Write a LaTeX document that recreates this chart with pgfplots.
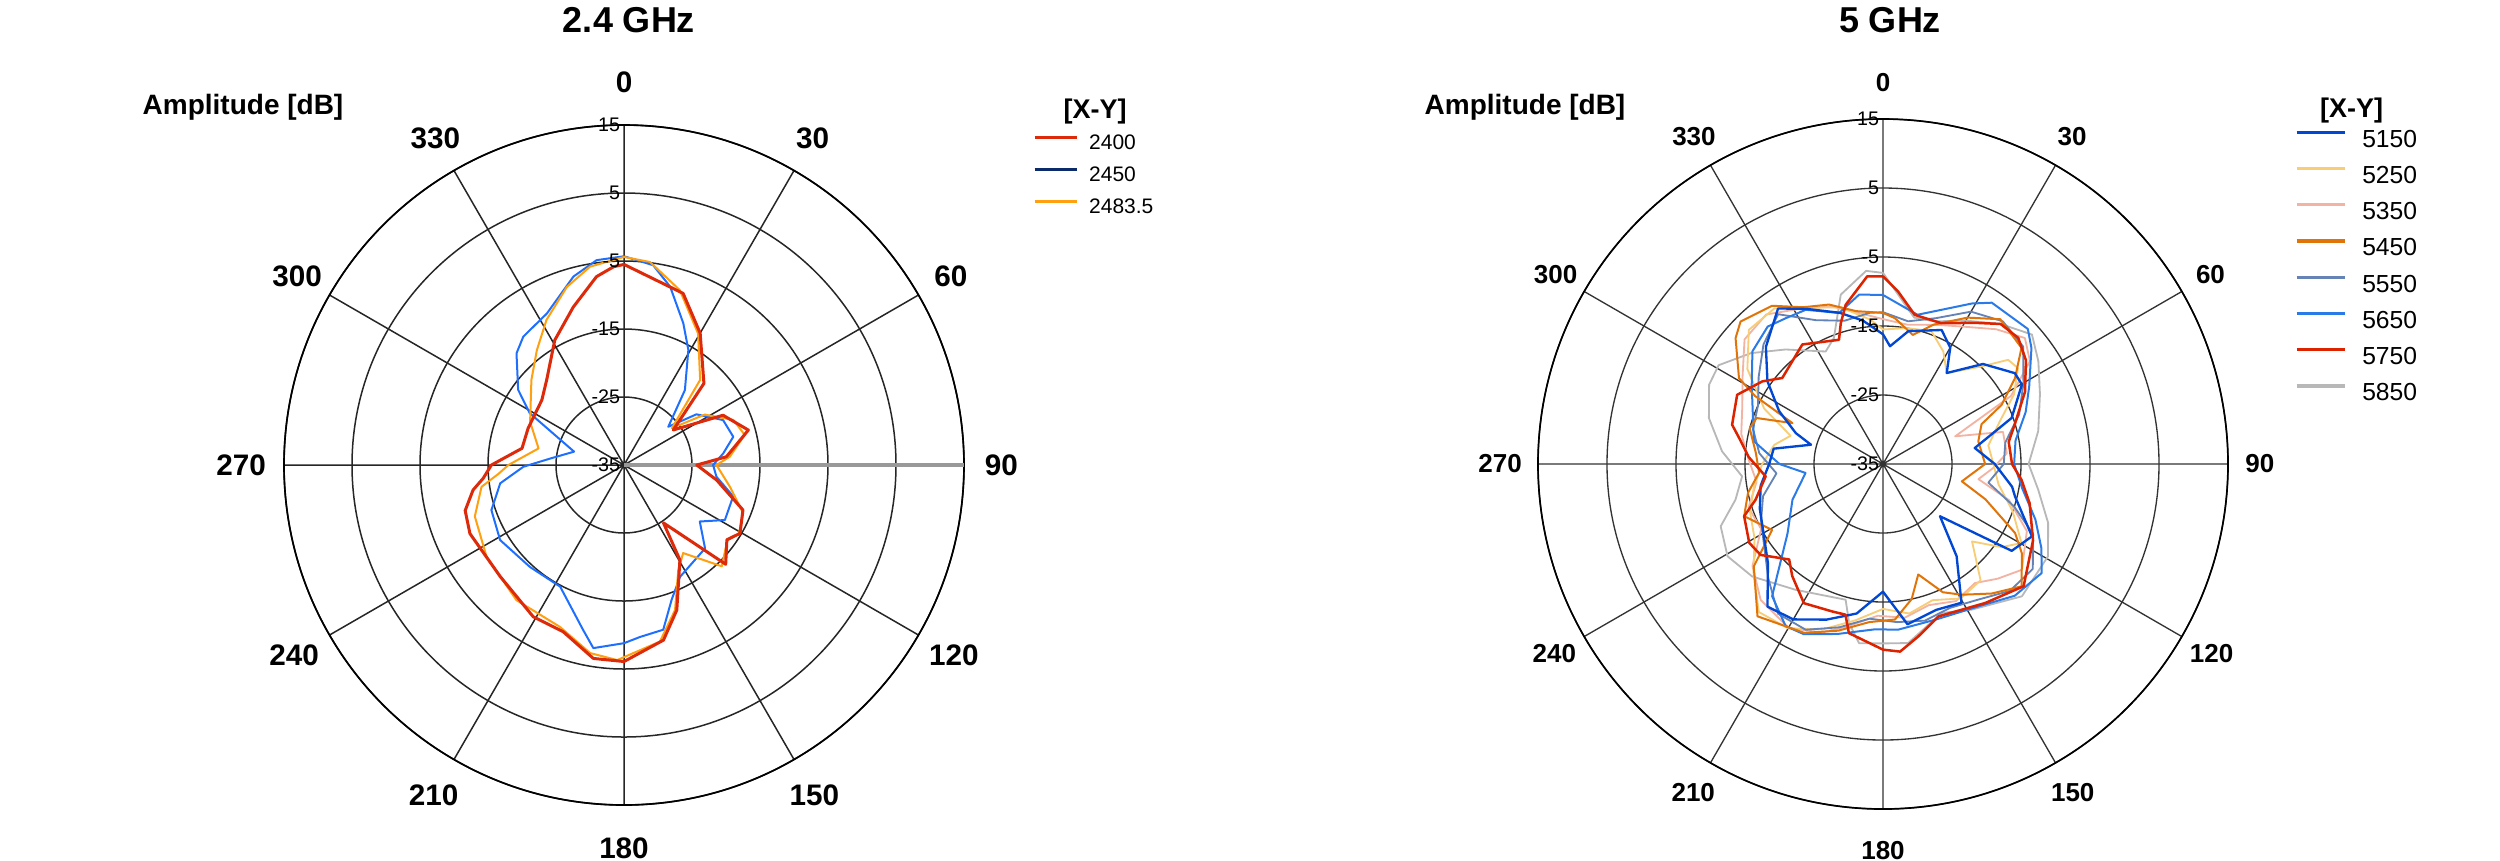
\documentclass[border=0pt]{standalone}
\usepackage{fontspec}
\setmainfont{Liberation Sans}
\usepackage{pgfplots}
\pgfplotsset{compat=1.18}
\usepgfplotslibrary{polar}

\definecolor{cRedA}{HTML}{DD2A0A}
\definecolor{cBlueA}{HTML}{1F6FFF}
\definecolor{cNavyA}{HTML}{0B2A6A}
\definecolor{cOrangeA}{HTML}{FFA010}
\definecolor{c5150}{HTML}{0047D4}
\definecolor{c5250}{HTML}{F7CD75}
\definecolor{c5350}{HTML}{F3B3A3}
\definecolor{c5450}{HTML}{E07409}
\definecolor{c5550}{HTML}{6583B5}
\definecolor{c5650}{HTML}{2A7BE8}
\definecolor{c5750}{HTML}{DD2200}
\definecolor{c5850}{HTML}{B8B8B8}

\pgfplotsset{
  compass/.style={x filter/.expression={90-x}, y filter/.expression={y+35}, line join=round},
  mypolar/.style={scale only axis, xmin=0, xmax=360, ymin=0, ymax=50,
    xtick={0,30,...,330}, ytick={10,20,30,40,50}, xticklabels={}, yticklabels={},
    major tick length=0pt, grid=major, clip=false,
    axis line style={black, line width=0.5pt},
    y axis line style={draw=none},
    major grid style={black!85, line width=0.45pt},
    legend cell align=left,
  },
}
\tikzset{
  albA/.style={font=\fontsize{8.9}{10}\selectfont\bfseries, inner sep=0pt},
  albB/.style={font=\fontsize{7.8}{9}\selectfont\bfseries, inner sep=0pt},
  rlab/.style={font=\fontsize{5.9}{7}\selectfont, anchor=east, inner sep=1pt},
}

\begin{document}
\begin{tikzpicture}
\path[use as bounding box] (0pt,0pt) rectangle (750pt,-258pt);

% ---------------- 2.4 GHz ----------------
\begin{polaraxis}[mypolar, width=204pt, height=204pt,
  at={(187.2pt,-139.5pt)}, anchor=center,
  legend style={draw=none, fill=none, at={(1.1015,0.986)}, anchor=north west,
    font=\fontsize{6.3}{7}\selectfont, inner sep=0pt, outer sep=0pt, row sep=3.7pt,
    nodes={inner sep=0pt}},
  legend image code/.code={\draw[#1, line width=0.9pt] (0pt,2.2pt) -- (12.6pt,2.2pt); \path (16.2pt,2.2pt);},
]
\addlegendimage{cRedA}\addlegendentry{2400}
\addlegendimage{cNavyA}\addlegendentry{2450}
\addlegendimage{cOrangeA}\addlegendentry{2483.5}

\addplot[forget plot, black!40, line width=1pt] coordinates {(0,0) (0,50)};

\addplot[forget plot, compass, cBlueA, line width=0.6pt] coordinates {
(0,-4.3)(8.3,-5.3)(14.5,-7.9)(22.7,-12.4)(29.2,-15.6)(39.1,-20.8)(49.2,-26.4)(55,-22)(65.6,-19)(75.5,-18.4)(83.3,-20.3)(90,-21.9)(97.2,-21.3)(106,-18.3)(118.6,-18.1)(126.7,-21.1)(135.8,-17.9)(153.4,-16.6)(160.5,-14)(166.6,-10.1)(174.7,-9.6)(180,-8.8)(189.5,-7.7)(193.9,-10)(207.7,-14.8)(222.7,-14.6)(238.8,-13.7)(251.2,-14.4)(261.6,-16.6)(269,-20.2)(275,-24.1)(285,-27.4)(298.8,-19.2)(305.4,-15.9)(316.1,-12.2)(321.9,-11)(333,-10)(345,-6.3)(352.4,-4.6)(360,-4.3)
};
\addplot[forget plot, compass, cOrangeA, line width=0.6pt] coordinates {
(0,-4.4)(7.3,-4.9)(17.7,-8)(29.4,-12.8)(41.8,-18.2)(52.4,-26.1)(58,-21)(67.6,-17.6)(76,-16.7)(85.5,-19.4)(90,-21.4)(101.6,-19.1)(112,-16.1)(121,-15.3)(126,-16.2)(136,-14.3)(146.1,-19.4)(152.7,-17.6)(160.6,-12.4)(168.5,-8.5)(182,-6.3)(190.2,-6.9)(201.6,-9.4)(218.5,-9.6)(236.3,-10.7)(251,-11.8)(261.3,-13.8)(266,-16.5)(270,-18)(281,-22.2)(294.7,-19.8)(312.6,-16.5)(322.8,-13.8)(331.9,-10.8)(342.2,-7.5)(350.3,-5.4)(360,-4.4)
};
\addplot[forget plot, compass, cRedA, line width=0.9pt] coordinates {
(0,-5.5)(19,-8.3)(30,-12.6)(44.4,-18.2)(54.6,-26.1)(63.3,-18.7)(74.3,-16)(85.4,-19.9)(90,-24.3)(99.2,-21.2)(110.7,-16.3)(120.5,-15.2)(126,-16.3)(134.3,-14.1)(145.7,-24.7)(149.5,-18.8)(160,-12.3)(167.3,-8.6)(180,-6.1)(189,-6.2)(200,-8.9)(210.9,-9)(228,-10.5)(246,-10.2)(254,-10.7)(260.6,-12.5)(264.6,-14.2)(270,-15.5)(279.3,-19.8)(291,-19.9)(308.3,-19.6)(317.7,-18.1)(331,-14)(342.2,-10.6)(351.7,-7)(357,-5.8)(360,-5.5)
};

\node[albA] at (axis cs:90,56.3) {0};
\node[albA] at (axis cs:60,55.5) {30};
\node[albA] at (axis cs:30,55.5) {60};
\node[albA] at (axis cs:0,55.5) {90};
\node[albA] at (axis cs:330,56) {120};
\node[albA] at (axis cs:300,56) {150};
\node[albA] at (axis cs:270,56.3) {180};
\node[albA] at (axis cs:240,56) {210};
\node[albA] at (axis cs:210,56) {240};
\node[albA] at (axis cs:180,56.3) {270};
\node[albA] at (axis cs:150,55.5) {300};
\node[albA] at (axis cs:120,55.5) {330};

\node[rlab] at (axis cs:90,0) {-35};
\node[rlab] at (axis cs:90,10) {-25};
\node[rlab] at (axis cs:90,20) {-15};
\node[rlab] at (axis cs:90,30) {-5};
\node[rlab] at (axis cs:90,40) {5};
\node[rlab] at (axis cs:90,50) {15};
\end{polaraxis}

% ---------------- 5 GHz ----------------
\begin{polaraxis}[mypolar, width=207pt, height=207pt,
  at={(564.9pt,-139.2pt)}, anchor=center,
  major grid style={black!80, line width=0.4pt},
  legend style={draw=none, fill=none, at={(1.097,0.984)}, anchor=north west,
    font=\fontsize{7.4}{8}\selectfont, inner sep=0pt, outer sep=0pt, row sep=4.2pt,
    nodes={inner sep=0pt}},
  legend image code/.code={\draw[#1, line width=1pt] (0pt,2.65pt) -- (14.4pt,2.65pt); \path (19.5pt,2.65pt);},
]
\addlegendimage{c5150}\addlegendentry{5150}
\addlegendimage{c5250}\addlegendentry{5250}
\addlegendimage{c5350}\addlegendentry{5350}
\addlegendimage{c5450}\addlegendentry{5450}
\addlegendimage{c5550}\addlegendentry{5550}
\addlegendimage{c5650}\addlegendentry{5650}
\addlegendimage{c5750}\addlegendentry{5750}
\addlegendimage{c5850}\addlegendentry{5850}

% 5850
\addplot[forget plot, compass, c5850, line width=0.55pt] coordinates {
(0,-7.3)(12,-13.3)(20,-13)(30,-11)(40,-8.5)(49,-6.4)(56.5,-8)(66,-10.1)(78,-12)(90,-13.9)(99.4,-12.2)(109.6,-9.6)(119.2,-7.6)(133.6,-7.2)(148.7,-10.3)(158.5,-11.8)(172,-8.8)(180,-9)(187.6,-8.8)(192,-11.4)(195.4,-14.6)(214.8,-12.8)(229.3,-10)(239.3,-8.8)(249,-9.8)(256.4,-13)(265,-14.5)(274.5,-11.6)(284.8,-8.9)(294.5,-7.3)(301,-7.2)(310,-10)(319.6,-13.2)(333,-16.7)(338.7,-15.4)(346,-9.7)(355,-6.9)(360,-7.3)
};
% 5350
\addplot[forget plot, compass, c5350, line width=0.55pt] coordinates {
(0,-14)(10,-14.5)(21.7,-13.3)(30,-12)(40,-9.5)(48.4,-7.5)(55,-9)(62,-14)(69,-23.8)(75,-17)(85,-17)(92,-19)(99,-21)(106,-16)(115,-12)(127.3,-9.7)(135,-11.5)(142.3,-13.2)(152,-12.5)(162,-13.5)(172,-12.5)(182,-13)(192,-11)(200,-9)(210,-7.6)(222,-8.5)(232,-11)(242,-15)(252,-14.5)(262,-16.5)(272,-15.5)(282,-14)(292,-13)(302,-11)(312,-8)(322,-7.5)(332,-9.5)(342,-11)(352,-13)(360,-14)
};
% 5250
\addplot[forget plot, compass, c5250, line width=0.55pt] coordinates {
(0,-15.5)(10,-15)(20,-14.5)(28.2,-16.5)(35,-18.9)(45.3,-14.9)(50.2,-11.4)(54.6,-11)(62,-13.5)(70,-17)(80,-19.5)(90,-19)(100,-18)(110,-15)(119.7,-11.9)(125,-14)(131,-17.9)(140,-13)(150,-12.5)(160,-14)(170,-13)(180,-14)(190,-12)(200,-9.5)(210,-7.5)(220,-7)(230,-10.5)(240,-13.5)(250,-14.5)(260,-16)(270,-17.5)(280,-19)(287,-21)(295,-16)(305,-11)(315,-7.5)(325,-7.5)(335,-10)(345,-11.5)(355,-14)(360,-15.5)
};
% 5550
\addplot[forget plot, compass, c5550, line width=0.55pt] coordinates {
(0,-13)(10,-14)(20,-12.5)(30,-9.5)(40,-8)(50,-8.5)(60,-11.5)(70,-14)(80,-17)(90,-17.5)(100,-19.5)(108,-15)(115,-11)(125,-8.5)(135,-9)(145,-11)(155,-12)(165,-11.5)(175,-12)(185,-12.5)(195,-10.5)(205,-8.5)(215,-8.5)(225,-11.5)(235,-14)(245,-15.5)(255,-17)(265,-19.5)(275,-17)(285,-15.5)(295,-15)(305,-13)(315,-10.5)(325,-8.5)(335,-12)(345,-13.5)(355,-13)(360,-13)
};
% 5650
\addplot[forget plot, compass, c5650, line width=0.6pt] coordinates {
(0,-10.5)(13,-12.8)(29,-8.4)(34,-6.8)(47,-6.3)(52,-7.7)(62,-11)(70,-13)(80,-15.5)(90,-16)(100,-14.5)(110,-11.5)(118,-9)(124.5,-7.1)(135,-8)(145,-10)(161.5,-11.2)(174.7,-10.9)(183,-11)(195,-9.5)(205,-7.8)(211,-7.6)(220,-10)(234,-17.9)(248.5,-20.9)(263.4,-23.7)(270,-20)(280,-16)(295.6,-14)(301,-12.8)(310.8,-10)(320,-9)(326.3,-9.6)(333.4,-10)(343.8,-12.2)(352,-10.2)(360,-10.5)
};
% 5450
\addplot[forget plot, compass, c5450, line width=0.6pt] coordinates {
(0,-13.1)(4.7,-13.8)(13,-15.8)(20,-13.5)(30,-10.5)(39,-8)(50,-8.8)(57,-12.2)(63.5,-15.8)(68,-19.6)(76.6,-20.8)(90,-20.2)(102.4,-23.3)(109,-19.3)(117.6,-13.4)(122.7,-11.1)(131.4,-8.2)(140,-10.5)(149,-12.9)(155,-14.5)(162.3,-18.2)(168,-15)(175.6,-12.4)(185,-12)(195,-10)(205,-8)(219.5,-6.4)(231.6,-11.1)(239.3,-16.3)(249.4,-13.5)(258,-15)(266,-17)(275,-16.5)(285,-15)(290,-15.5)(294.3,-20.6)(298,-14)(300.8,-10.7)(310.5,-6.9)(315,-5.8)(325,-7)(333,-9.5)(341.3,-10.6)(350,-12.5)(360,-13.1)
};
% 5150
\addplot[forget plot, compass, c5150, line width=0.7pt] coordinates {
(0,-16.2)(3.4,-17.9)(10.8,-15.4)(23.6,-13.8)(30,-15.5)(35,-18.9)(45,-14.5)(55.4,-11.8)(60.2,-11.8)(70.3,-15.2)(80.1,-21.5)(90,-18.8)(100,-16)(103.8,-15.3)(115.9,-11)(124,-12.5)(132.5,-23.8)(141.4,-17.9)(150.5,-11.9)(160,-12.5)(171.3,-11.5)(180,-16.5)(190,-13)(200,-11)(210,-9)(219,-8.4)(229.3,-13)(240,-15)(250,-16)(260,-17)(270,-18.5)(278,-19)(285,-24.2)(289.5,-21.6)(297,-18.1)(305.6,-14.4)(315,-11)(326,-7.8)(334,-10)(344,-12.2)(352,-14)(360,-16.2)
};
% 5750
\addplot[forget plot, compass, c5750, line width=0.75pt] coordinates {
(0,-7.8)(5,-9.9)(12,-12.9)(22.6,-12.9)(33,-10.6)(40,-8.5)(47,-8.2)(54,-9.4)(63,-11.9)(73,-15)(80,-16.5)(90,-16.3)(96.5,-14.8)(105,-13)(117,-10.6)(131,-8)(143.7,-10)(151.6,-11)(160,-11.5)(168.4,-9.5)(174.8,-7.7)(180,-8.1)(191.4,-10)(194,-12.5)(199,-12.4)(209.6,-11.8)(219,-14.1)(224.5,-15.6)(233.4,-12.9)(239.5,-12.5)(249.4,-13.5)(254.3,-15.8)(264,-17.9)(273,-15.5)(279.6,-14)(284.6,-12.4)(295.4,-11.6)(304.4,-13.8)(310.5,-15.8)(326,-14.1)(340.5,-15.9)(343.3,-13.7)(346.8,-11.3)(355.2,-7.7)(360,-7.8)
};

\node[albB] at (axis cs:90,55.3) {0};
\node[albB] at (axis cs:60,54.8) {30};
\node[albB] at (axis cs:30,54.8) {60};
\node[albB] at (axis cs:0,54.6) {90};
\node[albB] at (axis cs:330,55) {120};
\node[albB] at (axis cs:300,55) {150};
\node[albB] at (axis cs:270,56) {180};
\node[albB] at (axis cs:240,55) {210};
\node[albB] at (axis cs:210,55) {240};
\node[albB] at (axis cs:180,55.5) {270};
\node[albB] at (axis cs:150,54.8) {300};
\node[albB] at (axis cs:120,54.8) {330};

\node[rlab] at (axis cs:90,0) {-35};
\node[rlab] at (axis cs:90,10) {-25};
\node[rlab] at (axis cs:90,20) {-15};
\node[rlab] at (axis cs:90,30) {-5};
\node[rlab] at (axis cs:90,40) {5};
\node[rlab] at (axis cs:90,50) {15};
\end{polaraxis}

% ---------------- texts ----------------
\node[font=\fontsize{10.8}{12}\selectfont\bfseries, inner sep=0pt] at (188.7pt,-6pt) {2.4 GHz};
\node[font=\fontsize{10.8}{12}\selectfont\bfseries, inner sep=0pt] at (567pt,-6pt) {5 GHz};
\node[font=\fontsize{8.4}{10}\selectfont\bfseries, inner sep=0pt] at (72.9pt,-32.1pt) {Amplitude [dB]};
\node[font=\fontsize{8.4}{10}\selectfont\bfseries, inner sep=0pt] at (457.5pt,-32.1pt) {Amplitude [dB]};
\node[font=\fontsize{8.1}{10}\selectfont\bfseries, inner sep=0pt] at (328.5pt,-33.6pt) {[X-Y]};
\node[font=\fontsize{8.1}{10}\selectfont\bfseries, inner sep=0pt] at (705.5pt,-33.3pt) {[X-Y]};
\end{tikzpicture}
\end{document}
